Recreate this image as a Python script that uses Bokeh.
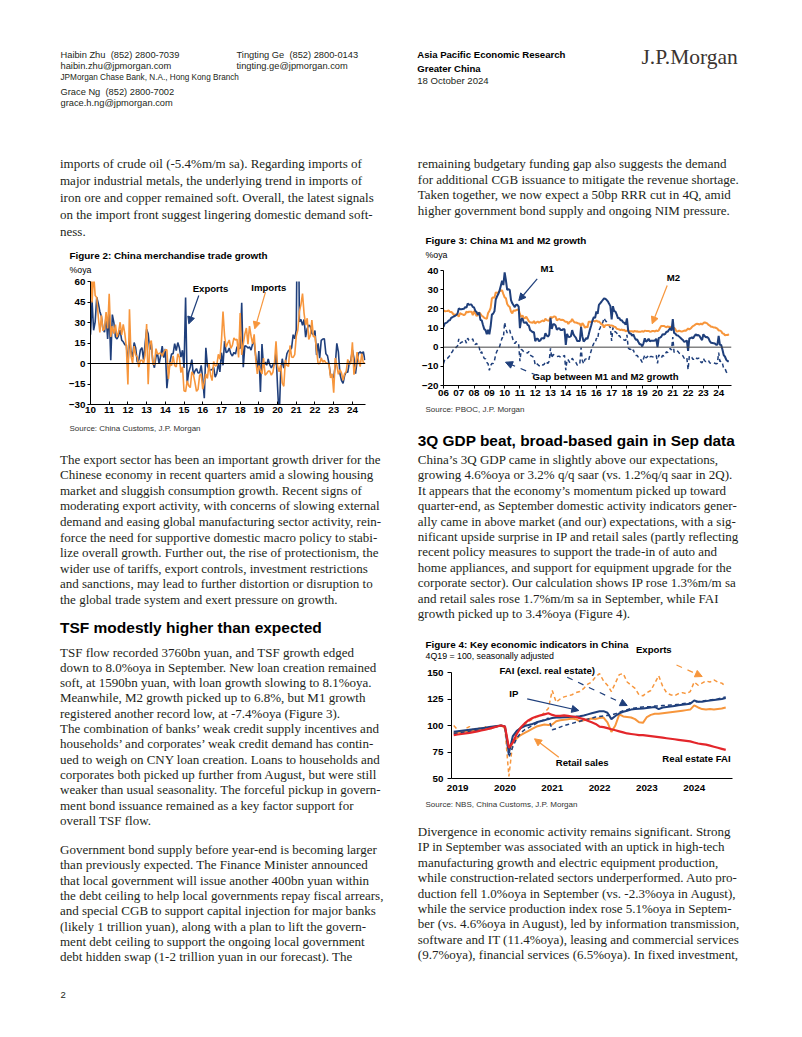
from bokeh.plotting import figure
from bokeh.layouts import column, row
from bokeh.models import Range1d, FixedTicker, Span, Label, Arrow, NormalHead
from bokeh.core.properties import value
from bokeh.embed import file_html
from bokeh.resources import INLINE

SERIF = "Liberation Serif"
SANS = "Liberation Sans"
NAVY = "#1f3f7b"
ORANGE = "#f7963c"
RED = "#e3262b"
INK = "#231f20"

# ---------------- data ----------------
# Figure 2: monthly %oya, Jan 2010 - Sep 2024
fig2_years = list(range(2010, 2025))
fig2_year_labels = ["10", "11", "12", "13", "14", "15", "16", "17", "18", "19", "20", "21", "22", "23", "24"]
fig2_yticks = [-30, -15, 0, 15, 30, 45, 60]
exports_yoy = [
    21.0, 45.7, 24.3, 30.5, 48.5, 43.9, 38.1, 34.4, 25.1, 22.9, 34.9, 17.9,
    37.7, 2.4, 35.8, 29.9, 19.4, 17.9, 20.4, 24.5, 17.1, 15.9, 13.8, 13.4,
    -0.5, 18.4, 8.9, 4.9, 15.3, 11.3, 1.0, 2.7, 9.9, 11.6, 2.9, 14.1,
    25.0, 21.8, 10.0, 14.7, 1.0, -3.1, 5.1, 7.2, -0.3, 5.6, 12.7, 4.3,
    10.6, -18.1, -6.6, 0.9, 7.0, 7.2, 14.5, 9.4, 15.3, 11.6, 4.7, 9.7,
    -3.3, 48.3, -15.0, -6.4, -2.5, 2.8, -8.3, -5.5, -3.7, -6.9, -6.8, -1.4,
    -11.2, -25.4, 11.5, -1.8, -4.1, -4.8, -4.4, -2.8, -10.0, -7.3, 0.1, -6.1,
    7.9, -1.3, 16.4, 8.0, 8.7, 11.3, 7.2, 5.5, 8.1, 6.9, 12.3, 10.9,
    11.1, 44.5, -2.7, 12.9, 12.6, 11.3, 12.2, 9.8, 14.5, 15.6, 5.4, -4.4,
    9.1, -20.8, 14.2, -2.7, 1.1, -1.3, 3.3, -1.0, -3.2, -0.9, -1.1, 7.6,
    -17.2, -40.6, -6.6, 3.5, -3.3, 0.5, 7.2, 9.5, 9.9, 11.4, 21.1, 18.1,
    24.7, 154.9, 30.6, 32.3, 27.9, 32.2, 19.3, 25.6, 28.1, 27.1, 22.0, 20.9,
    24.1, 6.2, 14.7, 3.9, 16.9, 17.9, 18.0, 7.1, 5.7, -0.3, -8.7, -9.9,
    -10.5, -1.3, 14.8, 8.5, -7.5, -12.4, -14.5, -8.8, -6.2, -6.4, 0.5, 2.3,
    10.0, 4.0, -7.5, 1.5, 7.6, 8.6, 7.0, 8.7, 2.4,
]
imports_yoy = [
    85.5, 44.7, 66.0, 49.7, 48.3, 34.1, 22.7, 35.2, 24.1, 25.3, 37.7, 25.6,
    51.0, 19.4, 27.3, 21.8, 28.4, 19.3, 22.9, 30.2, 20.9, 28.7, 22.1, 11.8,
    -15.3, 39.6, 5.3, 0.3, 12.7, 6.3, 4.7, -2.6, 2.4, 2.4, 0.0, 6.0,
    28.8, -15.2, 14.1, 16.8, -0.3, -0.7, 10.9, 7.0, 7.4, 7.6, 5.3, 8.3,
    10.0, 10.1, -11.3, 0.8, -1.6, 5.5, -1.6, -2.4, 7.0, 4.6, -6.7, -2.4,
    -19.9, -20.5, -12.7, -16.2, -17.6, -6.1, -8.1, -13.8, -20.4, -18.8, -8.7, -7.6,
    -18.8, -13.8, -7.6, -10.9, -0.4, -8.4, -12.5, 1.5, -1.9, -1.4, 6.7, 3.1,
    16.7, 38.1, 20.3, 11.9, 14.8, 17.2, 11.0, 13.3, 18.7, 17.2, 17.7, 4.5,
    36.9, 6.3, 14.4, 21.5, 26.0, 14.1, 27.3, 20.0, 14.3, 21.4, 3.0, -7.6,
    -1.5, -5.2, -7.6, 4.0, -8.5, -7.3, -5.6, -5.6, -8.5, -6.4, 0.3, 16.3,
    -2.0, -6.0, -1.0, -14.2, -16.7, 2.7, -1.4, -2.1, 13.2, 4.7, 4.5, 6.5,
    20.0, 24.5, 38.1, 43.1, 51.1, 36.7, 28.1, 33.1, 17.6, 20.6, 31.7, 19.5,
    20.0, 10.0, -0.1, 0.0, 4.1, 1.0, 2.3, 0.3, 0.3, -0.7, -10.6, -7.5,
    -21.3, 4.0, -1.4, -7.9, -4.5, -6.8, -12.4, -7.3, -6.2, 3.0, -0.6, 0.2,
    15.5, -8.2, -1.9, 8.4, 1.8, -2.3, 7.2, 0.5, 0.3,
]

# Figure 3: monthly %oya, Jan 2006 - Sep 2024
fig3_years = list(range(2006, 2025))
fig3_year_labels = ["06", "07", "08", "09", "10", "11", "12", "13", "14", "15", "16", "17", "18", "19", "20", "21", "22", "23", "24"]
fig3_yticks = [-20, -10, 0, 10, 20, 30, 40]
m1_yoy = [
    10.6, 12.4, 12.6, 13.0, 13.9, 14.0, 15.3, 15.6, 16.0, 16.3, 16.8, 17.5,
    20.2, 19.8, 19.8, 19.9, 20.0, 20.9, 20.6, 22.8, 22.1, 22.2, 22.2, 21.0,
    20.7, 18.9, 18.3, 16.9, 18.1, 14.2, 14.0, 11.6, 9.4, 8.9, 6.8, 9.1,
    6.7, 10.9, 17.0, 17.5, 18.7, 24.8, 26.4, 27.7, 29.5, 32.0, 34.6, 32.4,
    39.0, 34.9, 29.9, 30.2, 29.9, 24.6, 22.9, 21.9, 20.9, 22.1, 22.1, 21.2,
    9.9, 14.5, 15.0, 12.9, 12.7, 13.1, 11.6, 11.2, 8.9, 8.4, 7.8, 7.9,
    3.1, 4.4, 4.4, 3.1, 3.5, 4.7, 4.6, 4.5, 7.3, 6.1, 5.5, 6.5,
    15.3, 9.5, 11.9, 11.9, 11.3, 9.1, 9.7, 9.9, 8.9, 8.9, 9.4, 9.3,
    1.2, 6.9, 5.4, 5.3, 5.7, 8.9, 6.7, 5.7, 4.8, 3.2, 3.2, 3.2,
    10.6, 5.6, 2.9, 3.7, 4.7, 4.3, 6.6, 9.3, 11.4, 14.0, 15.7, 15.2,
    18.6, 17.4, 22.1, 22.9, 23.7, 24.6, 25.4, 25.3, 24.7, 23.9, 22.7, 21.4,
    14.5, 21.4, 18.8, 18.5, 17.0, 15.0, 15.3, 14.0, 14.0, 13.0, 12.7, 11.8,
    15.0, 8.5, 7.1, 7.2, 6.0, 6.6, 5.1, 3.9, 4.0, 2.7, 1.5, 1.5,
    0.4, 2.0, 4.6, 2.9, 3.4, 4.4, 3.1, 3.4, 3.4, 3.3, 3.5, 4.4,
    0.0, 4.8, 5.0, 5.5, 6.8, 6.5, 6.9, 8.0, 8.1, 9.1, 10.0, 8.6,
    14.7, 7.4, 7.1, 6.2, 6.1, 5.5, 4.9, 4.2, 3.7, 2.8, 3.0, 3.5,
    -1.9, 4.7, 4.7, 5.1, 4.6, 5.8, 6.7, 6.1, 6.4, 5.8, 4.6, 3.7,
    6.7, 5.8, 5.1, 5.3, 4.7, 3.1, 2.3, 2.2, 2.1, 1.9, 1.3, 1.3,
    5.9, 1.2, 1.1, -1.4, -4.2, -5.0, -6.6, -7.3, -7.4,
]
m2_yoy = [
    19.2, 18.8, 18.8, 18.9, 19.1, 18.4, 18.4, 17.9, 16.8, 17.1, 16.8, 16.9,
    15.9, 17.8, 17.3, 17.1, 16.7, 17.1, 18.5, 18.1, 18.5, 18.5, 18.5, 16.7,
    18.9, 17.5, 16.3, 16.9, 18.1, 17.4, 16.4, 16.0, 15.3, 15.0, 14.8, 17.8,
    18.8, 20.5, 25.5, 26.0, 25.7, 28.5, 28.4, 28.5, 29.3, 29.4, 29.7, 27.7,
    26.0, 25.5, 22.5, 21.5, 21.0, 18.5, 17.6, 19.2, 19.0, 19.3, 19.5, 19.7,
    17.2, 15.7, 16.6, 15.3, 15.1, 15.9, 14.7, 13.5, 13.0, 12.9, 12.7, 13.6,
    12.4, 13.0, 13.4, 12.8, 13.2, 13.6, 13.9, 13.5, 14.8, 14.1, 13.9, 13.8,
    15.9, 15.2, 15.7, 16.1, 15.8, 14.0, 14.5, 14.7, 14.2, 14.3, 14.2, 13.6,
    13.2, 13.3, 12.1, 13.2, 13.4, 14.7, 13.5, 12.8, 12.9, 12.6, 12.3, 12.2,
    10.8, 12.5, 11.6, 10.1, 10.8, 10.2, 13.3, 13.3, 13.1, 13.5, 13.7, 13.3,
    14.0, 13.3, 13.4, 12.8, 11.8, 11.8, 10.2, 11.4, 11.5, 11.6, 11.4, 11.3,
    11.3, 11.1, 10.6, 10.5, 9.6, 9.4, 9.2, 8.9, 9.2, 8.8, 9.1, 8.2,
    8.6, 8.8, 8.2, 8.3, 8.3, 8.0, 8.5, 8.2, 8.3, 8.0, 8.0, 8.1,
    8.4, 8.0, 8.6, 8.5, 8.5, 8.5, 8.1, 8.2, 8.4, 8.4, 8.2, 8.7,
    8.4, 8.8, 10.1, 11.1, 11.1, 11.1, 10.7, 10.4, 10.9, 10.5, 10.7, 10.1,
    9.4, 10.1, 9.4, 8.1, 8.3, 8.6, 8.3, 8.2, 8.3, 8.7, 8.5, 9.0,
    9.8, 9.2, 9.7, 10.5, 11.1, 11.4, 12.0, 12.2, 12.1, 11.8, 12.4, 11.8,
    12.6, 12.9, 12.7, 12.4, 11.6, 11.3, 10.7, 10.6, 10.3, 10.3, 10.0, 9.7,
    8.7, 8.7, 8.3, 7.2, 7.0, 6.2, 6.3, 6.3, 6.8,
]

# Figure 4: 4Q19 = 100, sa, monthly Dec 2018 - Sep 2024
fig4_years = [2019, 2020, 2021, 2022, 2023, 2024]
fig4_yticks = [50, 75, 100, 125, 150]
ip_idx = [94.0,
    94.5, 95.0, 95.5, 96.0, 96.5, 97.0, 97.5, 98.0, 98.5, 99.0, 99.5, 100.0,
    99.0, 74.0, 90.0, 95.0, 97.5, 99.5, 100.5, 101.5, 103.0, 104.0, 105.0, 106.0,
    107.0, 107.5, 107.5, 107.8, 108.0, 108.3, 108.5, 108.8, 109.5, 110.5, 111.5, 112.5,
    113.5, 113.5, 112.0, 106.0, 109.0, 111.5, 113.0, 114.0, 115.0, 115.5, 115.8, 116.0,
    116.5, 117.0, 117.5, 115.5, 117.0, 117.5, 118.0, 118.5, 119.0, 119.5, 120.0, 120.5,
    123.5, 122.5, 122.5, 123.0, 123.5, 124.0, 124.5, 125.0, 126.0]
fai_ex_re_idx = [92.5,
    93.0, 93.5, 94.0, 94.5, 95.0, 95.5, 96.0, 96.5, 97.0, 98.0, 99.0, 100.0,
    99.0, 70.0, 80.0, 88.0, 93.0, 96.0, 98.0, 100.0, 102.0, 104.0, 105.5, 107.0,
    96.0, 97.0, 98.5, 100.0, 101.0, 102.0, 103.0, 104.0, 105.0, 106.0, 107.0, 108.0,
    108.5, 109.0, 109.5, 110.0, 111.0, 112.5, 114.0, 115.0, 116.0, 116.5, 117.0, 117.5,
    117.8, 118.0, 118.3, 118.5, 118.8, 119.0, 119.3, 119.6, 120.0, 120.5, 121.0, 121.5,
    122.0, 122.5, 123.0, 123.5, 124.0, 124.5, 125.0, 126.0, 127.0]
exports_idx = [100.0,
    96.0, 91.0, 97.0, 99.0, 96.0, 98.0, 97.0, 99.0, 96.0, 98.0, 99.0, 100.0,
    97.0, 52.0, 85.0, 95.0, 98.0, 100.0, 104.0, 106.0, 108.0, 109.0, 112.0, 116.0,
    133.0, 122.0, 125.0, 127.0, 128.0, 129.0, 131.0, 132.0, 135.0, 139.0, 141.0, 146.0,
    149.0, 142.0, 138.0, 132.0, 140.0, 148.0, 149.0, 141.0, 138.0, 135.0, 129.0, 128.0,
    131.0, 133.0, 140.0, 147.0, 137.0, 131.0, 129.0, 128.0, 130.0, 131.0, 130.0, 132.0,
    141.0, 138.0, 140.0, 142.0, 141.0, 143.0, 141.0, 140.0, 137.0]
retail_idx = [93.0,
    93.5, 94.0, 94.5, 95.0, 95.5, 96.0, 96.5, 97.0, 97.5, 98.5, 99.2, 100.0,
    98.0, 78.0, 84.0, 88.0, 91.0, 93.0, 95.0, 97.0, 99.0, 100.0, 101.0, 100.5,
    101.0, 104.0, 105.0, 105.5, 106.0, 106.5, 106.0, 104.0, 105.0, 106.0, 106.5, 106.0,
    107.0, 107.5, 103.0, 94.0, 100.0, 110.5, 108.5, 108.0, 107.5, 106.0, 103.0, 102.5,
    108.0, 110.0, 111.0, 111.0, 111.5, 112.0, 112.5, 113.0, 113.5, 114.0, 114.5, 115.0,
    119.0, 117.0, 115.5, 115.0, 115.5, 115.0, 115.5, 116.0, 117.0]
re_fai_idx = [91.0,
    91.5, 92.0, 92.5, 93.0, 93.8, 94.5, 95.3, 96.0, 97.0, 98.0, 99.0, 100.0,
    99.0, 79.0, 84.0, 92.0, 98.0, 102.0, 105.0, 107.0, 108.5, 109.5, 110.5, 111.5,
    110.0, 109.0, 109.0, 109.5, 109.0, 108.5, 108.0, 107.0, 106.0, 104.5, 103.0, 101.5,
    99.0, 98.5, 97.5, 96.5, 95.5, 94.5, 93.5, 92.5, 92.0, 91.5, 91.0, 91.0,
    90.5, 90.0, 89.5, 89.0, 88.5, 88.0, 87.5, 87.0, 86.5, 86.0, 85.5, 85.0,
    84.0, 83.0, 82.5, 82.0, 81.0, 80.0, 79.0, 78.0, 77.0]

# ---------------- page text ----------------
header_left = ["Haibin Zhu\u00a0\u00a0(852) 2800-7039", "haibin.zhu@jpmorgan.com"]
header_branch = "JPMorgan Chase Bank, N.A., Hong Kong Branch"
header_left2 = ["Grace Ng\u00a0\u00a0(852) 2800-7002", "grace.h.ng@jpmorgan.com"]
header_mid = ["Tingting Ge\u00a0\u00a0(852) 2800-0143", "tingting.ge@jpmorgan.com"]
header_right_bold = ["Asia Pacific Economic Research", "Greater China"]
header_date = "18 October 2024"

para_l1 = [
    "imports of crude oil (-5.4%m/m sa). Regarding imports of",
    "major industrial metals, the underlying trend in imports of",
    "iron ore and copper remained soft. Overall, the latest signals",
    "on the import front suggest lingering domestic demand soft-",
    "ness.",
]
para_l2 = [
    "The export sector has been an important growth driver for the",
    "Chinese economy in recent quarters amid a slowing housing",
    "market and sluggish consumption growth. Recent signs of",
    "moderating export activity, with concerns of slowing external",
    "demand and easing global manufacturing sector activity, rein-",
    "force the need for supportive domestic macro policy to stabi-",
    "lize overall growth. Further out, the rise of protectionism, the",
    "wider use of tariffs, export controls, investment restrictions",
    "and sanctions, may lead to further distortion or disruption to",
    "the global trade system and exert pressure on growth.",
]
heading_l = "TSF modestly higher than expected"
para_l3 = [
    "TSF flow recorded 3760bn yuan, and TSF growth edged",
    "down to 8.0%oya in September. New loan creation remained",
    "soft, at 1590bn yuan, with loan growth slowing to 8.1%oya.",
    "Meanwhile, M2 growth picked up to 6.8%, but M1 growth",
    "registered another record low, at -7.4%oya (Figure 3).",
    "The combination of banks\u2019 weak credit supply incentives and",
    "households\u2019 and corporates\u2019 weak credit demand has contin-",
    "ued to weigh on CNY loan creation. Loans to households and",
    "corporates both picked up further from August, but were still",
    "weaker than usual seasonality. The forceful pickup in govern-",
    "ment bond issuance remained as a key factor support for",
    "overall TSF flow.",
]
para_l4 = [
    "Government bond supply before year-end is becoming larger",
    "than previously expected. The Finance Minister announced",
    "that local government will issue another 400bn yuan within",
    "the debt ceiling to help local governments repay fiscal arrears,",
    "and special CGB to support capital injection for major banks",
    "(likely 1 trillion yuan), along with a plan to lift the govern-",
    "ment debt ceiling to support the ongoing local government",
    "debt hidden swap (1-2 trillion yuan in our forecast). The",
]
para_r1 = [
    "remaining budgetary funding gap also suggests the demand",
    "for additional CGB issuance to mitigate the revenue shortage.",
    "Taken together, we now expect a 50bp RRR cut in 4Q, amid",
    "higher government bond supply and ongoing NIM pressure.",
]
heading_r = "3Q GDP beat, broad-based gain in Sep data"
para_r2 = [
    "China\u2019s 3Q GDP came in slightly above our expectations,",
    "growing 4.6%oya or 3.2% q/q saar (vs. 1.2%q/q saar in 2Q).",
    "It appears that the economy\u2019s momentum picked up toward",
    "quarter-end, as September domestic activity indicators gener-",
    "ally came in above market (and our) expectations, with a sig-",
    "nificant upside surprise in IP and retail sales (partly reflecting",
    "recent policy measures to support the trade-in of auto and",
    "home appliances, and support for equipment upgrade for the",
    "corporate sector). Our calculation shows IP rose 1.3%m/m sa",
    "and retail sales rose 1.7%m/m sa in September, while FAI",
    "growth picked up to 3.4%oya (Figure 4).",
]
para_r3 = [
    "Divergence in economic activity remains significant. Strong",
    "IP in September was associated with an uptick in high-tech",
    "manufacturing growth and electric equipment production,",
    "while construction-related sectors underperformed. Auto pro-",
    "duction fell 1.0%oya in September (vs. -2.3%oya in August),",
    "while the service production index rose 5.1%oya in Septem-",
    "ber (vs. 4.6%oya in August), led by information transmission,",
    "software and IT (11.4%oya), leasing and commercial services",
    "(9.7%oya), financial services (6.5%oya). In fixed investment,",
]

BODY_SIZE = "13px"
TITLE_SIZE = "9.9px"
UNIT_SIZE = "8.8px"
NOTE_SIZE = "9.6px"
TICK_SIZE = "9.8px"
SRC_SIZE = "8px"


def page_fig(x0, x1, y0, y1):
    p = figure(width=x1 - x0, height=y1 - y0, x_range=Range1d(x0, x1), y_range=Range1d(y1, y0),
               output_backend="svg", toolbar_location=None, x_axis_location=None,
               y_axis_location=None, min_border=0, outline_line_color=None, frame_align=False)
    p.grid.grid_line_color = None
    return p


def put(p, xs, ys, texts, font=SERIF, size=BODY_SIZE, style="normal", color=INK, align="left"):
    p.text(x=xs, y=ys, text=texts, text_font=value(font), text_font_size=size,
           text_font_style=style, text_color=color, text_align=align, text_baseline="middle")


def para(p, lines, x, y0, lead, **kw):
    put(p, [x] * len(lines), [y0 + i * lead for i in range(len(lines))], lines, **kw)


def chart(x0, x1, y0, y1, fl, fr, ft, fb, xr, yr):
    p = figure(width=x1 - x0, height=y1 - y0, x_range=Range1d(*xr), y_range=Range1d(*yr),
               output_backend="svg", toolbar_location=None,
               min_border_left=fl - x0, min_border_right=x1 - fr,
               min_border_top=ft - y0, min_border_bottom=y1 - fb,
               outline_line_color=None, frame_align=False)
    p.grid.grid_line_color = None
    p.axis.axis_line_color = "black"
    p.axis.major_tick_line_color = "black"
    p.axis.minor_tick_line_color = None
    p.axis.major_label_text_font = SANS
    p.axis.major_label_text_font_style = "bold"
    p.axis.major_label_text_font_size = TICK_SIZE
    p.axis.major_label_text_color = "black"

    def to(px, py):
        return (xr[0] + (px - fl) / (fr - fl) * (xr[1] - xr[0]),
                yr[1] - (py - ft) / (fb - ft) * (yr[1] - yr[0]))
    return p, to


def label(p, to, px, py, text, size=NOTE_SIZE, style="bold", align="center", color="black"):
    x, y = to(px, py)
    p.add_layout(Label(x=x, y=y, text=text, text_font=SANS, text_font_size=size,
                       text_font_style=style, text_align=align, text_baseline="middle",
                       text_color=color))


def arrow(p, to, a, b, color, dash="solid", width=1.2, head=7):
    xs, ys = to(*a)
    xe, ye = to(*b)
    p.add_layout(Arrow(end=NormalHead(size=head, fill_color=color, line_color=color, line_width=1),
                       x_start=xs, y_start=ys, x_end=xe, y_end=ye,
                       line_color=color, line_width=width, line_dash=dash))


def months(y0, m0, n):
    return [y0 + (m0 - 1 + i) / 12.0 for i in range(n)]


# ---------------- header ----------------
hdr = page_fig(0, 800, 0, 140)
put(hdr, [60, 60], [54, 65.7], header_left, font=SANS, size="9.3px")
put(hdr, [60], [77], [header_branch], font=SANS, size="8.2px")
put(hdr, [60, 60], [91.5, 102.7], header_left2, font=SANS, size="9.3px")
put(hdr, [236, 236], [54, 65.7], header_mid, font=SANS, size="9.3px")
put(hdr, [416.7, 416.7], [54, 68.3], header_right_bold, font=SANS, size="9.6px", style="bold", color="black")
put(hdr, [416.7], [79.5], [header_date], font=SANS, size="9.6px")
put(hdr, [641], [56], ["J.P.Morgan"], font=SERIF, size="21.5px", color="#3b3430")

# ---------------- left column ----------------
tl1 = page_fig(0, 397, 140, 277)
para(tl1, para_l1, 59.5, 163.3, 17.0)
put(tl1, [69], [255], ["Figure 2: China merchandise trade growth"], font=SANS, size=TITLE_SIZE, style="bold", color="black")
put(tl1, [69], [269.5], ["%oya"], font=SANS, size=UNIT_SIZE, color="black")

c2, to2 = chart(0, 397, 277, 420, 90, 365, 281, 404, (2010.0, 2024.7), (-30, 60))
x2 = months(2010, 1, len(exports_yoy))
c2.line(x2, exports_yoy, line_color=NAVY, line_width=1.6)
c2.line(x2, imports_yoy, line_color=ORANGE, line_width=1.6)
c2.add_layout(Span(location=0, dimension="width", line_color="black", line_width=1))
c2.xaxis.ticker = FixedTicker(ticks=fig2_years)
c2.xaxis.major_label_overrides = dict(zip(fig2_years, fig2_year_labels))
c2.yaxis.ticker = FixedTicker(ticks=fig2_yticks)
c2.xaxis.major_tick_out = 0
c2.xaxis.major_tick_in = 3
c2.xaxis.major_label_standoff = 2
c2.yaxis.major_tick_out = 3
c2.yaxis.major_tick_in = 0
c2.yaxis.major_label_standoff = 2
label(c2, to2, 210, 288.3, "Exports")
arrow(c2, to2, (198.3, 295), (188.3, 323.3), NAVY)
label(c2, to2, 268.3, 286.7, "Imports")
arrow(c2, to2, (265, 291.7), (254.3, 328.3), ORANGE)

tl2 = page_fig(0, 397, 420, 1036)
put(tl2, [69], [428.3], ["Source: China Customs, J.P. Morgan"], font=SANS, size=SRC_SIZE, color="#333333")
para(tl2, para_l2, 59.5, 458.5, 15.6)
put(tl2, [59.5], [627], [heading_l], font=SANS, size="15.5px", style="bold", color="black")
para(tl2, para_l3, 59.5, 651.5, 15.3)
para(tl2, para_l4, 59.5, 849, 15.3)
put(tl2, [60], [994], ["2"], font=SANS, size="9.5px")

left = column(tl1, c2, tl2, spacing=0)

# ---------------- right column ----------------
tr1 = page_fig(397, 800, 140, 261)
para(tr1, para_r1, 417.3, 162.8, 15.8)
put(tr1, [425], [240], ["Figure 3: China M1 and M2 growth"], font=SANS, size=TITLE_SIZE, style="bold", color="black")
put(tr1, [425], [254], ["%oya"], font=SANS, size=UNIT_SIZE, color="black")

# frame top extended to 262 px so the M1 note fits; 40 sits at 270 px
c3_top = 40 + (270 - 262) * 60 / 115.0
c3, to3 = chart(397, 800, 261, 402, 443, 731, 262, 385, (2006.0, 2024.84), (-20, c3_top))
x3 = months(2006, 1, len(m1_yoy))
gap_yoy = [a - b for a, b in zip(m1_yoy, m2_yoy)]  # gap between M1 and M2 growth
c3.add_layout(Span(location=0, dimension="width", line_color="#444444", line_width=1))
c3.line(x3, gap_yoy, line_color=NAVY, line_width=1.5, line_dash="4 3")
c3.line(x3, m2_yoy, line_color=ORANGE, line_width=2)
c3.line(x3, m1_yoy, line_color=NAVY, line_width=2)
c3.xaxis.ticker = FixedTicker(ticks=fig3_years)
c3.xaxis.major_label_overrides = dict(zip(fig3_years, fig3_year_labels))
c3.yaxis.ticker = FixedTicker(ticks=fig3_yticks)
c3.yaxis.bounds = (-20, 40)
c3.xaxis.major_tick_out = 3
c3.xaxis.major_tick_in = 0
c3.xaxis.major_label_standoff = 1
c3.yaxis.major_tick_out = 3
c3.yaxis.major_tick_in = 0
c3.yaxis.major_label_standoff = 2
label(c3, to3, 546.7, 268.3, "M1")
arrow(c3, to3, (536.7, 278.3), (518.3, 300), NAVY)
label(c3, to3, 673, 276.7, "M2")
arrow(c3, to3, (666.7, 285), (651.7, 323.3), ORANGE)
label(c3, to3, 605, 375.7, "Gap between M1 and M2 growth")
arrow(c3, to3, (536.7, 375), (505, 361.7), NAVY, dash="dashed")

tr2 = page_fig(397, 800, 402, 662)
put(tr2, [425], [409], ["Source: PBOC, J.P. Morgan"], font=SANS, size=SRC_SIZE, color="#333333")
put(tr2, [417.3], [440], [heading_r], font=SANS, size="15.4px", style="bold", color="black")
para(tr2, para_r2, 417.3, 459, 15.4)
put(tr2, [425], [644], ["Figure 4: Key economic indicators in China"], font=SANS, size=TITLE_SIZE, style="bold", color="black")
put(tr2, [425], [655.5], ["4Q19 = 100, seasonally adjusted"], font=SANS, size=UNIT_SIZE, color="black")
put(tr2, [653.3], [649.3], ["Exports"], font=SANS, size=NOTE_SIZE, style="bold", color="black", align="center")

# frame top extended to 663 px so notes fit; 150 sits at 672 px
c4_top = 150 + (672 - 663) * 100 / 106.0
c4, to4 = chart(397, 800, 662, 799, 451, 732, 663, 778, (2018.87, 2024.81), (50, c4_top))
x4 = months(2018, 12, len(ip_idx))
c4.line(x4, exports_idx, line_color=ORANGE, line_width=1.5, line_dash="4 3")
c4.line(x4, retail_idx, line_color=ORANGE, line_width=2)
c4.line(x4, fai_ex_re_idx, line_color=NAVY, line_width=1.5, line_dash="4 3")
c4.line(x4, ip_idx, line_color=NAVY, line_width=2)
c4.line(x4, re_fai_idx, line_color=RED, line_width=2.2)
c4.xaxis.ticker = FixedTicker(ticks=fig4_years)
c4.yaxis.ticker = FixedTicker(ticks=fig4_yticks)
c4.yaxis.bounds = (50, 150)
c4.xaxis.major_tick_out = 0
c4.xaxis.major_tick_in = 0
c4.xaxis.major_label_standoff = 6
c4.yaxis.major_tick_out = 4
c4.yaxis.major_tick_in = 0
c4.yaxis.major_label_standoff = 4
arrow(c4, to4, (676, 664.5), (701.7, 676), ORANGE, dash="dashed")
label(c4, to4, 546.7, 669.8, "FAI (excl. real estate)")
arrow(c4, to4, (566.7, 676.7), (626.7, 705), NAVY, dash="dashed")
label(c4, to4, 513.3, 692.7, "IP")
arrow(c4, to4, (526.7, 698.3), (578.3, 710), NAVY)
label(c4, to4, 581.7, 761.7, "Retail sales")
arrow(c4, to4, (558.3, 756.7), (534, 738.3), ORANGE)
label(c4, to4, 696, 757.7, "Real estate FAI")

tr3 = page_fig(397, 800, 799, 1036)
put(tr3, [425], [804], ["Source: NBS, China Customs, J.P. Morgan"], font=SANS, size=SRC_SIZE, color="#333333")
para(tr3, para_r3, 417.3, 831, 15.4)

right = column(tr1, c3, tr2, c4, tr3, spacing=0)

page = column(hdr, row(left, right, spacing=0), spacing=0)

open("out.html", "w").write(file_html(page, INLINE))
